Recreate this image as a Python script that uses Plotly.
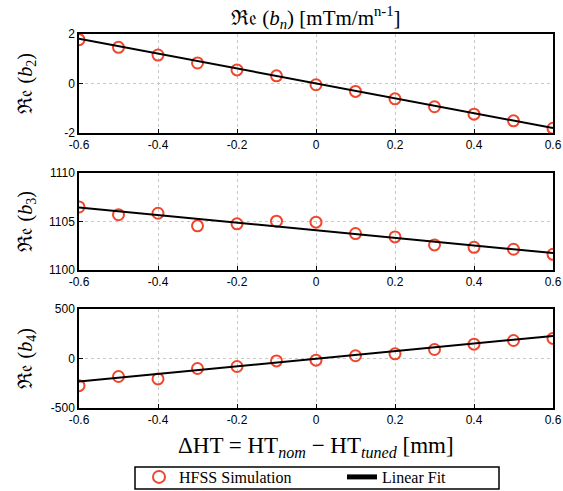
import plotly.graph_objects as go

# ---- data ----
dht = [-0.6, -0.5, -0.4, -0.3, -0.2, -0.1, 0.0, 0.1, 0.2, 0.3, 0.4, 0.5, 0.6]
b2_sim = [1.77, 1.46, 1.15, 0.83, 0.55, 0.31, -0.05, -0.32, -0.62, -0.94, -1.24, -1.51, -1.81]
b3_sim = [1106.5, 1105.7, 1105.85, 1104.55, 1104.76, 1105.03, 1104.93, 1103.76, 1103.41,
          1102.59, 1102.34, 1102.14, 1101.62]
b4_sim = [-274, -182, -206, -101, -81, -24, -17, 28, 47, 91, 145, 182, 203]

fit_x = [-0.6, 0.6]
b2_fit = [1.81, -1.80]
b3_fit = [1106.45, 1101.75]
b4_fit = [-232, 228]

x_tickvals = [-0.6, -0.4, -0.2, 0, 0.2, 0.4, 0.6]
x_ticktext = ["-0.6", "-0.4", "-0.2", "0", "0.2", "0.4", "0.6"]
b2_tickvals = [-2, 0, 2]
b2_ticktext = ["-2", "0", "2"]
b3_tickvals = [1100, 1105, 1110]
b3_ticktext = ["1100", "1105", "1110"]
b4_tickvals = [-500, 0, 500]
b4_ticktext = ["-500", "0", "500"]

sim_name = "HFSS Simulation"
fit_name = "Linear Fit"

# ---- styling ----
RED = "#F0462D"
W, H = 563, 491
ml, mr, mt, mb = 79, 10, 34, 83
plot_h = H - mt - mb
plot_w = W - ml - mr

def py(pix):
    return (H - mb - pix) / plot_h

def px(pix):
    return (pix - ml) / plot_w

domains = [(py(133), py(34)), (py(270), py(173)), (py(408), py(309))]

fig = go.Figure()
series = [(b2_sim, b2_fit), (b3_sim, b3_fit), (b4_sim, b4_fit)]
for i, (sim, fit) in enumerate(series):
    ax = "" if i == 0 else str(i + 1)
    fig.add_trace(go.Scatter(
        x=dht, y=sim, mode="markers", name=sim_name, showlegend=(i == 0),
        marker=dict(symbol="circle-open", size=11, color=RED, line=dict(width=2, color=RED)),
        xaxis="x" + ax, yaxis="y" + ax, legendrank=1))
    fig.add_trace(go.Scatter(
        x=fit_x, y=fit, mode="lines", name=fit_name, showlegend=(i == 0),
        line=dict(color="black", width=2),
        xaxis="x" + ax, yaxis="y" + ax, legendrank=2))

tickfont = dict(family="Liberation Sans", size=12, color="black")
common = dict(showline=True, mirror=True, linecolor="black", linewidth=1.5,
              showgrid=True, gridcolor="#c8c8c8", griddash="dot", gridwidth=1,
              zeroline=False, ticks="inside", ticklen=4, tickcolor="black",
              tickfont=tickfont, automargin=False)

yinfo = [(b2_tickvals, b2_ticktext, [-2, 2]),
         (b3_tickvals, b3_ticktext, [1100, 1110]),
         (b4_tickvals, b4_ticktext, [-500, 500])]
layout_axes = {}
for i in range(3):
    ax = "" if i == 0 else str(i + 1)
    layout_axes["xaxis" + ax] = dict(common, domain=[0, 1], range=[-0.6, 0.6],
                                     tickvals=x_tickvals, ticktext=x_ticktext,
                                     anchor="y" + ax)
    tv, tt, rg = yinfo[i]
    layout_axes["yaxis" + ax] = dict(common, domain=list(domains[i]), range=rg,
                                     tickvals=tv, ticktext=tt, anchor="x" + ax)

fig.update_layout(**layout_axes)

serif = "Liberation Serif"
ylabels = ["ℜ𝔢 (<i>b</i><sub>2</sub>)", "ℜ𝔢 (<i>b</i><sub>3</sub>)", "ℜ𝔢 (<i>b</i><sub>4</sub>)"]
annotations = []
for i, lab in enumerate(ylabels):
    annotations.append(dict(
        text=lab, xref="paper", yref="paper", x=px(26),
        y=sum(domains[i]) / 2, textangle=-90, showarrow=False,
        font=dict(family=serif, size=20, color="black"),
        xanchor="center", yanchor="middle"))
annotations.append(dict(
    text="ℜ𝔢 (<i>b</i><sub><i>n</i></sub>) [mTm/m<sup>n-1</sup>]",
    xref="paper", yref="paper", x=0.5, y=py(17), showarrow=False,
    font=dict(family=serif, size=21, color="black"), xanchor="center", yanchor="middle"))
annotations.append(dict(
    text="ΔHT = HT<sub><i>nom</i></sub> − HT<sub><i>tuned</i></sub> [mm]",
    xref="paper", yref="paper", x=0.5, y=py(447), showarrow=False,
    font=dict(family=serif, size=23, color="black"), xanchor="center", yanchor="middle"))

# legend frame
shapes = [dict(type="rect", xref="paper", yref="paper",
               x0=px(135), x1=px(499), y0=py(489), y1=py(467),
               line=dict(color="black", width=1.5), fillcolor="white", layer="below")]

fig.update_layout(
    width=W, height=H,
    margin=dict(l=ml, r=mr, t=mt, b=mb, autoexpand=False),
    paper_bgcolor="white", plot_bgcolor="white",
    annotations=annotations,
    shapes=shapes,
    showlegend=True,
    legend=dict(orientation="h", x=px(139), xanchor="left", y=py(477), yanchor="middle",
                borderwidth=0, bgcolor="rgba(0,0,0,0)",
                font=dict(family=serif, size=16, color="black"),
                entrywidth=158, entrywidthmode="pixels",
                tracegroupgap=0, itemsizing="constant"),
)

fig.write_html("out.html", config={"displayModeBar": False},
               post_script="document.body.style.margin='0';document.body.style.overflow='hidden';")
